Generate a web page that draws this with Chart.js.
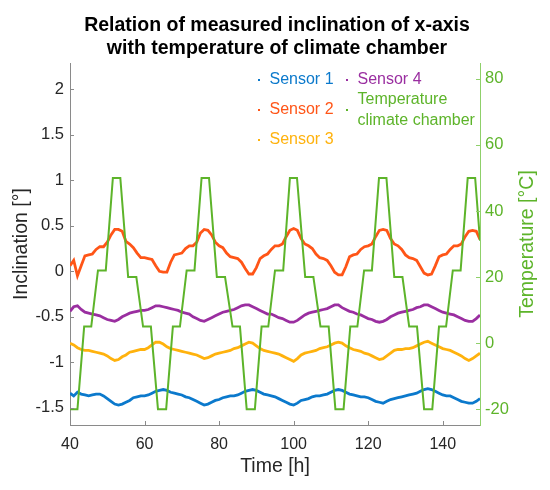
<!DOCTYPE html>
<html><head><meta charset="utf-8">
<script src="https://cdn.jsdelivr.net/npm/chart.js@4.4.0/dist/chart.umd.min.js"></script>
<style>html,body{margin:0;padding:0;background:#fff}#wrap{width:550px;height:490px;position:relative}</style>
</head><body><div id="wrap"><canvas id="c"></canvas></div>
<script>
const hours = [40,41,42,43,44,45,46,47,48,49,
  50,51,52,53,54,55,56,57,58,59,
  60,61,62,63,64,65,66,67,68,69,
  70,71,72,73,74,75,76,77,78,79,
  80,81,82,83,84,85,86,87,88,89,
  90,91,92,93,94,95,96,97,98,99,
  100,101,102,103,104,105,106,107,108,109,
  110,111,112,113,114,115,116,117,118,119,
  120,121,122,123,124,125,126,127,128,129,
  130,131,132,133,134,135,136,137,138,139,
  140,141,142,143,144,145,146,147,148,149,
  150];
const sensor1 = [-1.34,-1.37,-1.33,-1.35,-1.36,-1.37,-1.36,-1.35,-1.35,-1.37,
  -1.40,-1.43,-1.46,-1.47,-1.46,-1.44,-1.42,-1.39,-1.38,-1.37,
  -1.37,-1.36,-1.34,-1.32,-1.31,-1.30,-1.31,-1.33,-1.34,-1.35,
  -1.36,-1.38,-1.39,-1.41,-1.43,-1.45,-1.47,-1.46,-1.44,-1.42,
  -1.41,-1.39,-1.38,-1.37,-1.37,-1.36,-1.34,-1.32,-1.31,-1.30,
  -1.31,-1.33,-1.35,-1.36,-1.37,-1.38,-1.40,-1.42,-1.44,-1.46,
  -1.47,-1.45,-1.42,-1.41,-1.40,-1.38,-1.37,-1.37,-1.36,-1.35,
  -1.33,-1.31,-1.30,-1.31,-1.33,-1.35,-1.36,-1.37,-1.38,-1.38,
  -1.39,-1.41,-1.43,-1.44,-1.45,-1.43,-1.41,-1.40,-1.39,-1.38,
  -1.37,-1.36,-1.35,-1.34,-1.32,-1.30,-1.29,-1.30,-1.32,-1.34,
  -1.36,-1.37,-1.37,-1.39,-1.41,-1.43,-1.44,-1.45,-1.45,-1.43,
  -1.40];
const sensor2 = [0.06,0.12,-0.05,0.06,0.17,0.18,0.19,0.24,0.27,0.27,
  0.32,0.40,0.46,0.46,0.44,0.33,0.30,0.26,0.20,0.15,
  0.15,0.14,0.13,0.06,0.00,-0.01,-0.01,0.10,0.18,0.19,
  0.20,0.25,0.28,0.28,0.32,0.42,0.46,0.45,0.40,0.32,
  0.28,0.26,0.20,0.16,0.15,0.14,0.10,0.03,-0.03,-0.03,
  0.04,0.14,0.17,0.19,0.24,0.28,0.28,0.30,0.38,0.45,
  0.47,0.45,0.36,0.30,0.28,0.25,0.19,0.15,0.14,0.12,
  0.06,-0.01,-0.04,-0.04,0.05,0.16,0.18,0.19,0.24,0.27,
  0.28,0.30,0.38,0.45,0.46,0.45,0.36,0.30,0.28,0.24,
  0.18,0.15,0.14,0.12,0.05,-0.02,-0.04,-0.03,0.06,0.16,
  0.18,0.19,0.24,0.28,0.28,0.30,0.38,0.44,0.45,0.44,
  0.35];
const sensor3 = [-0.79,-0.81,-0.84,-0.86,-0.87,-0.87,-0.88,-0.89,-0.90,-0.91,
  -0.93,-0.96,-0.98,-0.97,-0.94,-0.92,-0.89,-0.88,-0.87,-0.86,
  -0.86,-0.84,-0.81,-0.78,-0.78,-0.80,-0.83,-0.85,-0.86,-0.87,
  -0.88,-0.89,-0.90,-0.91,-0.92,-0.94,-0.96,-0.95,-0.93,-0.91,
  -0.90,-0.89,-0.88,-0.87,-0.85,-0.84,-0.82,-0.80,-0.78,-0.79,
  -0.82,-0.85,-0.87,-0.88,-0.89,-0.90,-0.91,-0.93,-0.95,-0.97,
  -0.99,-0.96,-0.92,-0.90,-0.89,-0.88,-0.87,-0.85,-0.84,-0.83,
  -0.81,-0.79,-0.78,-0.79,-0.82,-0.84,-0.86,-0.87,-0.88,-0.90,
  -0.91,-0.93,-0.95,-0.97,-0.96,-0.93,-0.90,-0.87,-0.86,-0.86,
  -0.85,-0.85,-0.84,-0.82,-0.80,-0.78,-0.77,-0.79,-0.81,-0.83,
  -0.85,-0.86,-0.87,-0.89,-0.91,-0.93,-0.96,-0.98,-0.96,-0.93,
  -0.90];
const sensor4 = [-0.44,-0.39,-0.38,-0.42,-0.45,-0.46,-0.47,-0.48,-0.49,-0.51,
  -0.53,-0.54,-0.55,-0.53,-0.50,-0.48,-0.46,-0.45,-0.44,-0.43,
  -0.43,-0.42,-0.40,-0.38,-0.38,-0.39,-0.40,-0.41,-0.42,-0.43,
  -0.45,-0.46,-0.47,-0.50,-0.52,-0.54,-0.55,-0.53,-0.51,-0.49,
  -0.47,-0.45,-0.44,-0.43,-0.42,-0.40,-0.38,-0.37,-0.37,-0.39,
  -0.41,-0.43,-0.45,-0.47,-0.47,-0.49,-0.51,-0.52,-0.54,-0.56,
  -0.56,-0.54,-0.51,-0.48,-0.46,-0.45,-0.44,-0.43,-0.42,-0.41,
  -0.39,-0.37,-0.37,-0.40,-0.42,-0.44,-0.45,-0.47,-0.48,-0.50,
  -0.52,-0.53,-0.55,-0.56,-0.55,-0.53,-0.50,-0.48,-0.46,-0.45,
  -0.44,-0.43,-0.42,-0.40,-0.39,-0.37,-0.37,-0.39,-0.41,-0.43,
  -0.45,-0.46,-0.47,-0.48,-0.50,-0.52,-0.54,-0.55,-0.55,-0.52,
  -0.48];
const tempHours = [40,42.0,43.8,45.7,47.5,49.6,51.5,53.5,55.6,57.8,59.6,61.7,63.6,65.8,
  67.6,69.5,71.3,73.4,75.3,77.3,79.4,81.6,83.6,85.6,87.4,89.6,
  91.4,93.2,95.0,97.2,99.0,100.9,103.1,105.3,107.2,109.4,111.2,113.4,
  115.2,117.1,118.9,121.0,122.9,124.9,127.0,129.2,131.0,133.1,135.0,137.2,
  139.0,140.9,142.7,144.8,146.7,148.7,150];
const tempValues = [-20,-20,5,5,22,22,50,50,20,20,5,5,-20,-20,
  5,5,22,22,50,50,20,20,5,5,-20,-20,
  5,5,22,22,50,50,20,20,5,5,-20,-20,
  5,5,22,22,50,50,20,20,5,5,-20,-20,
  5,5,22,22,50,50,31];
const xTicks = [40,60,80,100,120,140];
const leftTicks = [-1.5,-1,-0.5,0,0.5,1,1.5,2];
const rightTicks = [-20,0,20,40,60,80];
const seriesNames = ['Sensor 1','Sensor 2','Sensor 3','Sensor 4','Temperature climate chamber'];
const seriesColors = ['#0b79cc','#ff5517','#ffb20d','#9a2ea0','#5db42a'];
const titleLines = ['Relation of measured inclination of x-axis','with temperature of climate chamber'];
const xTitle = 'Time [h]';
const leftTitle = 'Inclination [°]';
const rightTitle = 'Temperature [°C]';

const FONT = '"Liberation Sans", Arial, Helvetica, sans-serif';
const AXIS_GRAY = '#8a8a8a';
const TEXT_DARK = '#262626';

function pts(xs, ys){ return xs.map((x,i)=>({x:x,y:ys[i]})); }
const sensors = [sensor1, sensor2, sensor3, sensor4];
const datasets = sensors.map((s,i)=>({
  label: seriesNames[i], data: pts(hours, s), yAxisID: 'y',
  borderColor: seriesColors[i], borderWidth: 2.8, pointRadius: 0, tension: 0, order: 2
}));
datasets.push({label: seriesNames[4], data: pts(tempHours, tempValues), yAxisID: 'y2',
  borderColor: seriesColors[4], borderWidth: 2, pointRadius: 0, tension: 0, order: 1});

const decor = {
  id: 'decor',
  afterDraw(chart){
    const ctx = chart.ctx, a = chart.chartArea;
    const sx = chart.scales.x, sy = chart.scales.y, sy2 = chart.scales.y2;
    ctx.save();
    // inward tick marks
    ctx.lineWidth = 1;
    ctx.strokeStyle = AXIS_GRAY;
    ctx.beginPath();
    xTicks.forEach(v=>{ const p = Math.round(sx.getPixelForValue(v))+0.5; ctx.moveTo(p, a.bottom); ctx.lineTo(p, a.bottom-4); });
    leftTicks.forEach(v=>{ const p = Math.round(sy.getPixelForValue(v))+0.5; ctx.moveTo(a.left, p); ctx.lineTo(a.left+4, p); });
    ctx.stroke();
    ctx.strokeStyle = '#8fd06a';
    ctx.beginPath();
    rightTicks.forEach(v=>{ const p = Math.round(sy2.getPixelForValue(v))+0.5; ctx.moveTo(a.right, p); ctx.lineTo(a.right-4, p); });
    ctx.stroke();
    // title
    ctx.fillStyle = '#000';
    ctx.font = 'bold 19.5px ' + FONT;
    ctx.textAlign = 'center'; ctx.textBaseline = 'alphabetic';
    const cx = (a.left + a.right)/2 + 2;
    ctx.fillText(titleLines[0], cx, 31);
    ctx.fillText(titleLines[1], cx, 53.5);
    // axis titles
    ctx.font = '19.5px ' + FONT;
    ctx.textBaseline = 'middle';
    ctx.fillStyle = TEXT_DARK;
    ctx.fillText(xTitle, (a.left + a.right)/2, 466.5);
    ctx.save(); ctx.translate(22, (a.top + a.bottom)/2); ctx.rotate(-Math.PI/2);
    ctx.fillText(leftTitle, 0, 0); ctx.restore();
    ctx.save(); ctx.translate(528, (a.top + a.bottom)/2); ctx.rotate(-Math.PI/2);
    ctx.fillStyle = seriesColors[4];
    ctx.fillText(rightTitle, 0, 0); ctx.restore();
    // legend
    ctx.font = '16px ' + FONT;
    ctx.textAlign = 'left'; ctx.textBaseline = 'middle';
    const items = [
      {i:0, mx:259, tx:269.5, ys:[80]},
      {i:1, mx:259, tx:269.5, ys:[110]},
      {i:2, mx:259, tx:269.5, ys:[140]},
      {i:3, mx:347, tx:357.5, ys:[80]},
      {i:4, mx:347, tx:357.5, ys:[100,120.5], my:110}
    ];
    items.forEach(it=>{
      ctx.fillStyle = seriesColors[it.i];
      const my = it.my !== undefined ? it.my : it.ys[0];
      ctx.fillRect(it.mx-1, my-1, 2, 2);
      if (it.ys.length === 1) ctx.fillText(seriesNames[it.i], it.tx, it.ys[0]);
      else { ctx.fillText('Temperature', it.tx, it.ys[0]); ctx.fillText('climate chamber', it.tx, it.ys[1]); }
    });
    ctx.restore();
  }
};

new Chart(document.getElementById('c'), {
  type: 'line',
  data: { datasets: datasets },
  options: {
    responsive: true, maintainAspectRatio: false, animation: false,
    layout: { padding: { top: 63, left: 0, right: 0, bottom: 0 } },
    plugins: { legend: { display: false }, title: { display: false }, tooltip: { enabled: false } },
    scales: {
      x: {
        type: 'linear', min: 40, max: 150,
        afterBuildTicks: s => { s.ticks = xTicks.map(v=>({value:v})); },
        afterFit: s => { s.height = 65; },
        grid: { display: false, drawTicks: false },
        border: { display: true, color: AXIS_GRAY, width: 1 },
        ticks: { padding: 10, color: TEXT_DARK, font: { family: FONT, size: 16 }, maxRotation: 0, callback: v => String(v) }
      },
      y: {
        type: 'linear', position: 'left', min: -1.69, max: 2.29,
        afterBuildTicks: s => { s.ticks = leftTicks.map(v=>({value:v})); },
        afterFit: s => { s.width = 70; },
        grid: { display: false, drawTicks: false },
        border: { display: true, color: AXIS_GRAY, width: 1 },
        ticks: { padding: 6, color: TEXT_DARK, font: { family: FONT, size: 16.5 }, callback: v => String(v) }
      },
      y2: {
        type: 'linear', position: 'right', min: -24.8, max: 84.8,
        afterBuildTicks: s => { s.ticks = rightTicks.map(v=>({value:v})); },
        afterFit: s => { s.width = 70; },
        grid: { display: false, drawTicks: false },
        border: { display: true, color: '#8fd06a', width: 1 },
        ticks: { padding: 5, color: seriesColors[4], font: { family: FONT, size: 16.5 }, callback: v => String(v) }
      }
    }
  },
  plugins: [decor]
});
</script>
</body></html>
